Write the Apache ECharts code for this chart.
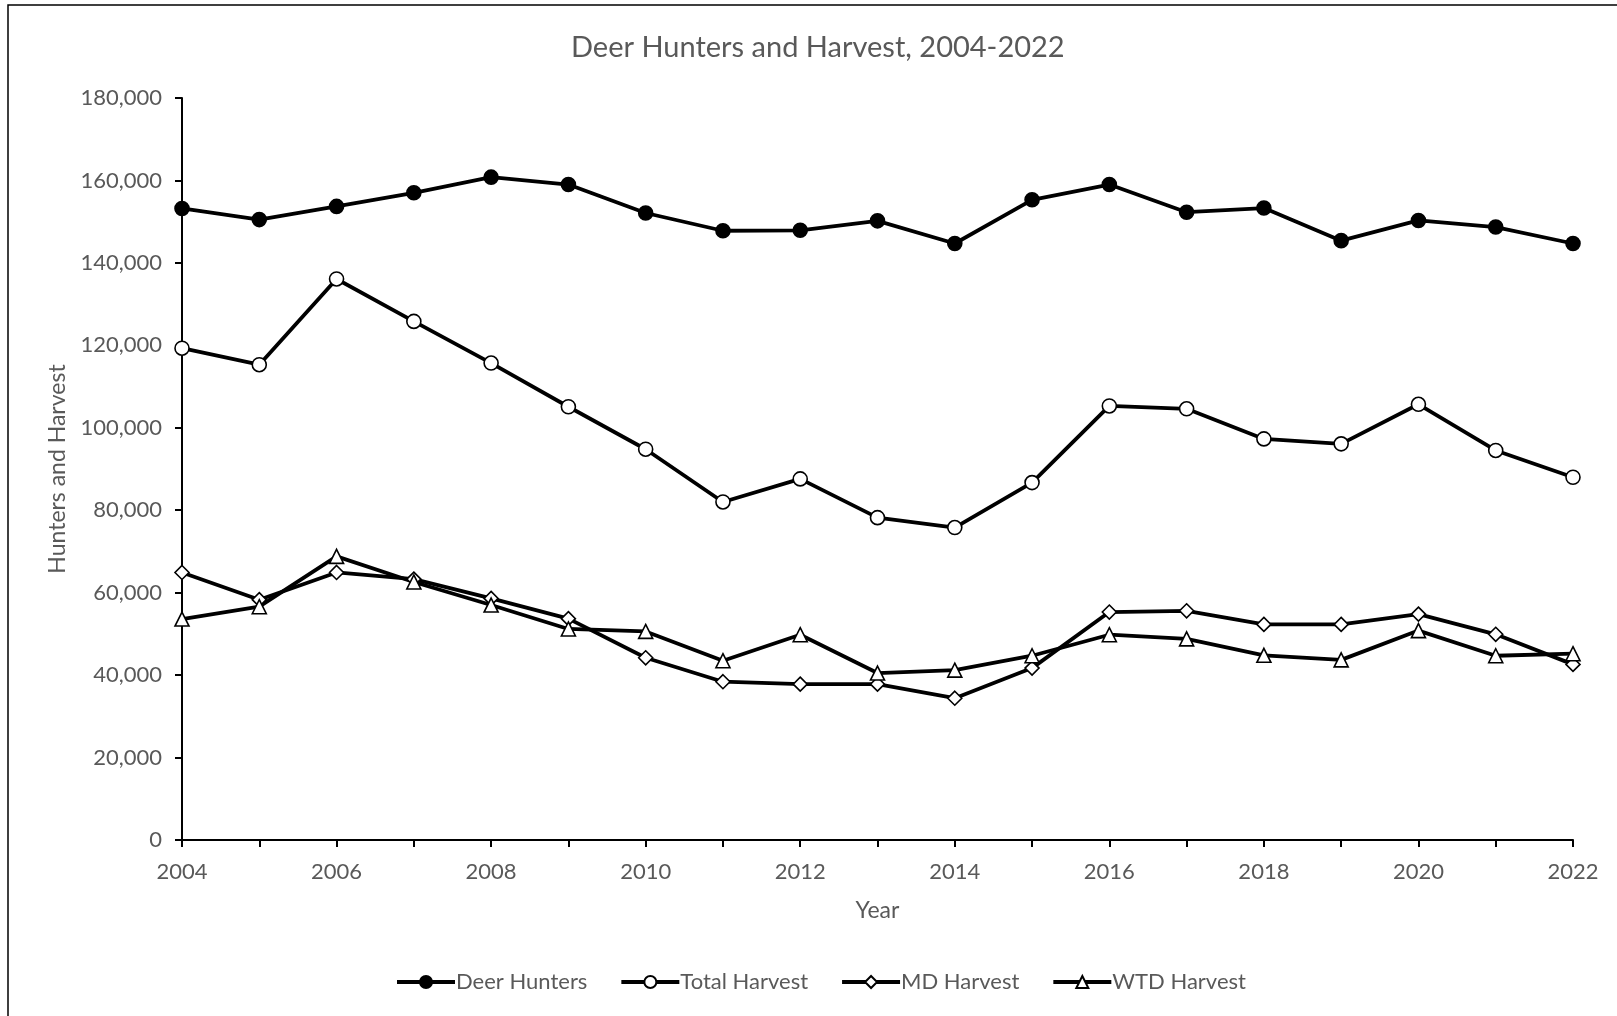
<!DOCTYPE html>
<html>
<head>
<meta charset="utf-8">
<title>Deer Hunters and Harvest, 2004-2022</title>
<script src="https://cdn.jsdelivr.net/npm/echarts@6/dist/echarts.min.js"></script>
<style>
  html, body { margin: 0; padding: 0; background: #ffffff; }
  #chart { width: 1617px; height: 1016px; }
</style>
</head>
<body>
<div id="chart"></div>
<script>
// Survey years
const years = ['2004','2005','2006','2007','2008','2009','2010','2011','2012','2013',
               '2014','2015','2016','2017','2018','2019','2020','2021','2022'];

// Number of deer hunters per year
const deerHunters = [153200, 150500, 153700, 157000, 160800, 159000, 152100, 147800, 147900, 150200,
                     144700, 155300, 159000, 152300, 153300, 145400, 150300, 148700, 144700];

// Total deer harvest per year
const totalHarvest = [119300, 115300, 136100, 125800, 115700, 105100, 94800, 82000, 87600, 78200,
                      75800, 86700, 105300, 104600, 97300, 96100, 105700, 94500, 88000];

// Mule deer harvest per year
const mdHarvest = [64900, 58300, 64900, 63300, 58600, 53700, 44200, 38400, 37800, 37800,
                   34400, 41700, 55300, 55600, 52300, 52300, 54800, 49900, 42600];

// White-tailed deer harvest per year
const wtdHarvest = [53600, 56600, 68800, 62600, 57000, 51200, 50600, 43500, 49800, 40500,
                    41200, 44700, 49800, 48800, 44800, 43700, 50800, 44700, 45200];

const FONT = 'Lato';
const TEXT = '#595959';

function lineSeries(name, data, symbol, fill, size) {
  return {
    name: name,
    type: 'line',
    data: data,
    symbol: symbol,
    symbolSize: size,
    showAllSymbol: true,
    lineStyle: { color: '#000', width: 3.8 },
    itemStyle: { color: fill, borderColor: '#000', borderWidth: 1.6 },
    emphasis: { disabled: true },
    animation: false
  };
}

const chart = echarts.init(document.getElementById('chart'), null, { renderer: 'canvas' });

chart.setOption({
  backgroundColor: '#ffffff',
  animation: false,
  textStyle: { fontFamily: FONT },
  title: {
    text: 'Deer Hunters and Harvest, 2004-2022',
    left: 566,
    top: 28,
    textStyle: { fontFamily: FONT, fontSize: 29, fontWeight: 'normal', color: TEXT }
  },
  graphic: [{
    type: 'rect',
    silent: true,
    shape: { x: 8, y: 5, width: 1700, height: 1100 },
    style: { fill: 'none', stroke: '#000', lineWidth: 1.5 }
  }],
  legend: {
    bottom: 18,
    left: 390,
    itemWidth: 58,
    itemHeight: 15,
    itemGap: 32,
    lineStyle: { width: 4, color: '#000' },
    textStyle: { fontFamily: FONT, fontSize: 22, color: TEXT, padding: [0, 0, 0, -4] },
    data: ['Deer Hunters', 'Total Harvest', 'MD Harvest', 'WTD Harvest']
  },
  grid: { left: 182, right: 44, top: 98, bottom: 176, containLabel: false },
  xAxis: {
    type: 'category',
    data: years,
    boundaryGap: false,
    name: 'Year',
    nameLocation: 'middle',
    nameGap: 59,
    nameTextStyle: { fontFamily: FONT, fontSize: 23, color: TEXT },
    axisLine: { lineStyle: { color: '#000', width: 2 } },
    axisTick: { show: true, interval: 0, length: 7, lineStyle: { color: '#000', width: 2 } },
    axisLabel: { interval: 1, margin: 21, fontFamily: FONT, fontSize: 22, color: TEXT },
    splitLine: { show: false }
  },
  yAxis: {
    type: 'value',
    min: 0,
    max: 180000,
    interval: 20000,
    name: 'Hunters and Harvest',
    nameLocation: 'middle',
    nameGap: 113,
    nameTextStyle: { fontFamily: FONT, fontSize: 23, color: TEXT },
    axisLine: { show: true, lineStyle: { color: '#000', width: 2 } },
    axisTick: { show: true, length: 7, lineStyle: { color: '#000', width: 2 } },
    axisLabel: {
      margin: 20,
      fontFamily: FONT,
      fontSize: 22,
      color: TEXT,
      formatter: v => v.toLocaleString('en-US')
    },
    splitLine: { show: false }
  },
  series: [
    lineSeries('Deer Hunters', deerHunters, 'circle', '#000', 14),
    lineSeries('Total Harvest', totalHarvest, 'circle', '#fff', 14),
    lineSeries('MD Harvest', mdHarvest, 'diamond', '#fff', 14),
    lineSeries('WTD Harvest', wtdHarvest, 'triangle', '#fff', 14)
  ]
});
</script>
</body>
</html>
